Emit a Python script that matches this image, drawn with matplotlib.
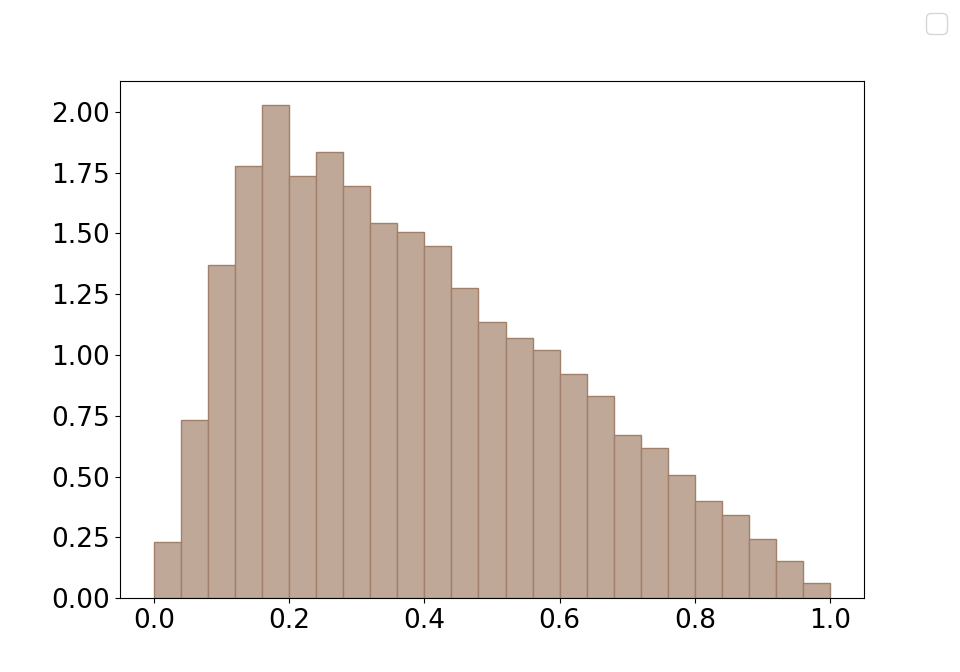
import numpy as np
import matplotlib.pyplot as plt

plt.rcParams["font.size"] = 19

# density histogram, 25 bins on [0, 1]
bin_edges = np.linspace(0.0, 1.0, 26)
density = [
    0.232, 0.733, 1.370, 1.776, 2.027, 1.735, 1.834, 1.694, 1.542, 1.505,
    1.448, 1.275, 1.136, 1.070, 1.021, 0.922, 0.832, 0.671, 0.618, 0.507,
    0.400, 0.343, 0.244, 0.154, 0.060,
]

fig, ax = plt.subplots(figsize=(9.6, 6.72), dpi=100)

ax.hist(bin_edges[:-1], bins=bin_edges, weights=density,
        facecolor="#c0a898", edgecolor="#a0806a", linewidth=1.0)

# empty figure legend in the corner
fig.legend(handles=[], labels=[])

plt.savefig("out.png", dpi=100)
plt.close()
